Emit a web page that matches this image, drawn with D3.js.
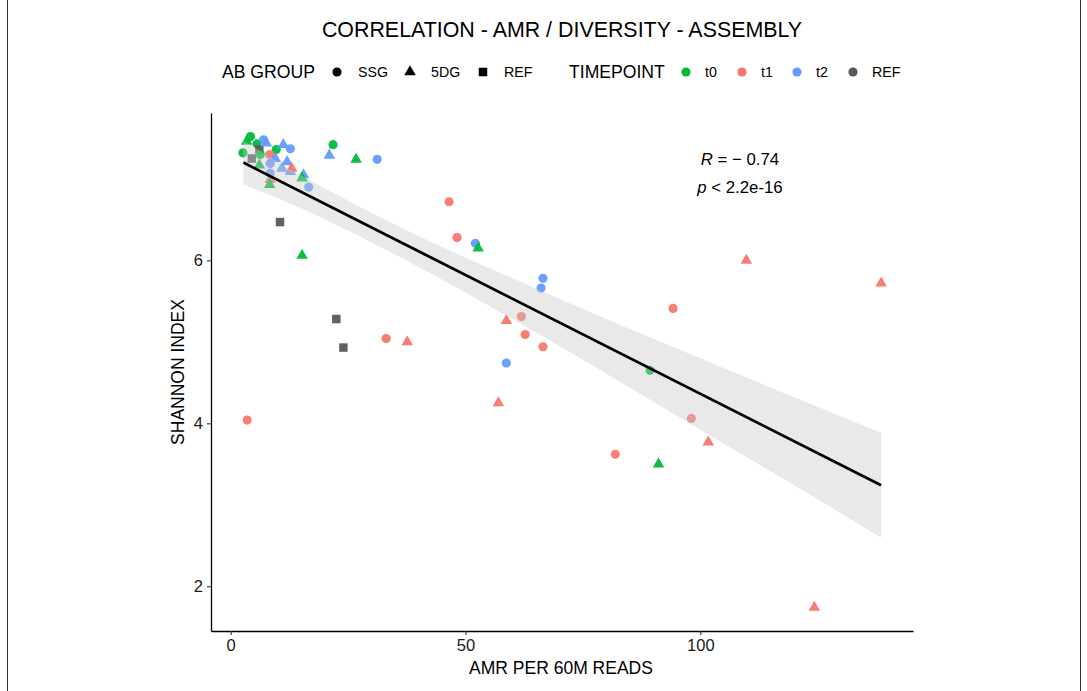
<!DOCTYPE html>
<html>
<head>
<meta charset="utf-8">
<script src="https://cdn.jsdelivr.net/npm/d3@7"></script>
<style>
  body { margin: 0; background: #fff; }
  text { font-family: "Liberation Sans", Arial, sans-serif; }
</style>
</head>
<body>
<div id="chart"></div>
<script>
// chart values
var amr = [21.8, 31.2, 21.0, 26.7, 46.5, 48.2, 52.1, 52.7, 66.5, 66.1,
  109.8, 138.5, 94.2, 58.7, 61.9, 62.7, 66.5, 58.7, 33.1, 37.6,
  22.5, 24.0, 10.5, 15.2, 3.5, 89.3, 98.1, 57.0, 101.7, 81.9,
  91.1, 124.3,
  4.2, 2.6, 5.6, 7.0, 6.1, 4.5, 3.4, 9.7, 11.2, 12.7,
  8.3, 6.3, 6.1, 8.4, 9.5, 12.0, 10.9, 12.7, 15.5, 13.0,
  8.4, 8.4, 8.3, 16.6, 15.2, 7.6];
var shannon = [7.42, 7.24, 7.29, 7.24, 6.72, 6.28, 6.21, 6.15, 5.78, 5.66,
  6.0, 5.72, 5.41, 5.26, 5.31, 5.09, 4.94, 4.74, 5.04, 5.0,
  5.28, 4.93, 6.47, 6.06, 4.04, 4.65, 4.06, 4.25, 3.77, 3.62,
  3.50, 1.74,
  7.52, 7.32, 7.43, 7.48, 7.36, 7.25, 7.46, 7.36, 7.42, 7.37,
  7.30, 7.30, 7.17, 7.19, 7.25, 7.21, 7.13, 7.09, 7.05, 7.13,
  7.07, 6.99, 6.93, 6.90, 7.01, 7.44];
var abGroup = ["SSG", "SSG", "5DG", "5DG", "SSG", "SSG", "SSG", "5DG", "SSG", "SSG",
  "5DG", "5DG", "SSG", "5DG", "SSG", "SSG", "SSG", "SSG", "SSG", "5DG",
  "REF", "REF", "REF", "5DG", "SSG", "SSG", "SSG", "5DG", "5DG", "SSG",
  "5DG", "5DG",
  "SSG", "SSG", "SSG", "SSG", "REF", "REF", "5DG", "SSG", "5DG", "SSG",
  "SSG", "SSG", "5DG", "SSG", "5DG", "5DG", "5DG", "5DG", "5DG", "5DG",
  "SSG", "5DG", "5DG", "SSG", "5DG", "5DG"];
var timepoint = ["t0", "t2", "t2", "t0", "t1", "t1", "t2", "t0", "t2", "t2",
  "t1", "t1", "t1", "t1", "t1", "t1", "t1", "t2", "t1", "t1",
  "REF", "REF", "REF", "t0", "t1", "t0", "t1", "t1", "t1", "t1",
  "t0", "t1",
  "t0", "t0", "t0", "t2", "REF", "REF", "t0", "t0", "t2", "t2",
  "t1", "t0", "t0", "t2", "t2", "t2", "t2", "t2", "t2", "t1",
  "t2", "t1", "t0", "t2", "t0", "t2"];

// fitted line and confidence band
var fitX = [2.7, 138.5];
var fitY = [7.20, 3.24];
var bandX = [2.7, 20, 40, 60, 80, 100, 120, 138.5];
var bandLow = [6.935, 6.505, 5.92, 5.28, 4.61, 3.92, 3.24, 2.595];
var bandHigh = [7.465, 6.885, 6.30, 5.78, 5.28, 4.80, 4.32, 3.885];

var xTicks = [0, 50, 100];
var yTicks = [2, 4, 6];
var groups = ["SSG", "5DG", "REF"];
var timepoints = ["t0", "t1", "t2", "REF"];

var svgWidth = 1087;
var svgHeight = 691;
var margin = { top: 113, right: 174, bottom: 60, left: 211 };
var width = svgWidth - margin.left - margin.right;
var height = svgHeight - margin.top - margin.bottom;

var svg = d3.select("#chart")
  .append("svg")
  .attr("width", svgWidth)
  .attr("height", svgHeight);

// frame edges
svg.append("line").attr("x1", 7.5).attr("x2", 7.5).attr("y1", 0).attr("y2", svgHeight)
  .attr("stroke", "#333").attr("stroke-width", 1);
svg.append("line").attr("x1", 1080.5).attr("x2", 1080.5).attr("y1", 0).attr("y2", svgHeight)
  .attr("stroke", "#333").attr("stroke-width", 1);

var chartGroup = svg.append("g")
  .attr("transform", `translate(${margin.left}, ${margin.top})`);

var points = amr.map(function (d, i) {
  return { x: d, y: shannon[i], group: abGroup[i], tp: timepoint[i] };
});

// scales with ggplot style 5% expansion
var xExt = d3.extent(amr), yExt = d3.extent(shannon);
var xPad = (xExt[1] - xExt[0]) * 0.05, yPad = (yExt[1] - yExt[0]) * 0.05;
var xScale = d3.scaleLinear().domain([xExt[0] - xPad, xExt[1] + xPad]).range([0, width]);
var yScale = d3.scaleLinear().domain([yExt[0] - yPad, yExt[1] + yPad]).range([height, 0]);

var colour = d3.scaleOrdinal().domain(timepoints).range(["#00BA38", "#F8766D", "#619CFF", "#595959"]);
var shape = d3.scaleOrdinal().domain(groups).range([d3.symbolCircle, d3.symbolTriangle, d3.symbolSquare]);
var shapeSize = d3.scaleOrdinal().domain(groups).range([66, 58, 72]);

// points
chartGroup.selectAll("path.pt")
  .data(points)
  .enter()
  .append("path")
  .attr("class", "pt")
  .attr("transform", d => `translate(${xScale(d.x)}, ${yScale(d.y)})`)
  .attr("d", d => d3.symbol().type(shape(d.group)).size(shapeSize(d.group))())
  .attr("fill", d => colour(d.tp))
  .attr("fill-opacity", 0.95);

// confidence band drawn over the points
var band = bandX.map(function (d, i) { return { x: d, lo: bandLow[i], hi: bandHigh[i] }; });
chartGroup.append("path")
  .datum(band)
  .attr("d", d3.area().x(d => xScale(d.x)).y0(d => yScale(d.lo)).y1(d => yScale(d.hi)).curve(d3.curveMonotoneX))
  .attr("fill", "#c8c8c8")
  .attr("fill-opacity", 0.4);

chartGroup.append("line")
  .attr("x1", xScale(fitX[0])).attr("y1", yScale(fitY[0]))
  .attr("x2", xScale(fitX[1])).attr("y2", yScale(fitY[1]))
  .attr("stroke", "#000").attr("stroke-width", 2.8);

// axes
var xAxis = chartGroup.append("g")
  .attr("transform", `translate(0, ${height})`)
  .call(d3.axisBottom(xScale).tickValues(xTicks).tickFormat(d3.format("d")).tickSize(4).tickPadding(4).tickSizeOuter(0));
var yAxis = chartGroup.append("g")
  .call(d3.axisLeft(yScale).tickValues(yTicks).tickFormat(d3.format("d")).tickSize(4).tickPadding(4).tickSizeOuter(0));
[xAxis, yAxis].forEach(function (ax) {
  ax.attr("font-size", null).attr("font-family", null);
  ax.select(".domain").attr("stroke", "#000").attr("stroke-width", 1.3);
  ax.selectAll(".tick line").attr("stroke", "#333").attr("stroke-width", 1.1);
  ax.selectAll(".tick text").style("font-size", "16.5px").attr("fill", "#1a1a1a");
});

// axes labels
chartGroup.append("text")
  .attr("transform", "rotate(-90)")
  .attr("x", 0 - height / 2)
  .attr("y", -27)
  .attr("text-anchor", "middle")
  .style("font-size", "17.5px")
  .text("SHANNON INDEX");

chartGroup.append("text")
  .attr("x", width / 2 - 1)
  .attr("y", height + 43)
  .attr("text-anchor", "middle")
  .style("font-size", "17.5px")
  .text("AMR PER 60M READS");

// stats annotation
var ann = chartGroup.append("g").style("font-size", "16.8px").attr("text-anchor", "middle");
var r1 = ann.append("text").attr("x", 529).attr("y", 52);
r1.append("tspan").attr("font-style", "italic").text("R");
r1.append("tspan").text(" = \u2212 0.74");
var r2 = ann.append("text").attr("x", 529).attr("y", 80);
r2.append("tspan").attr("font-style", "italic").text("p");
r2.append("tspan").text(" < 2.2e-16");

// title
svg.append("text")
  .attr("x", 562)
  .attr("y", 37)
  .attr("text-anchor", "middle")
  .style("font-size", "21.4px")
  .text("CORRELATION - AMR / DIVERSITY - ASSEMBLY");

// legends
var legend = svg.append("g").attr("transform", "translate(0, 72)");
legend.append("text").attr("x", 222).attr("y", 6).style("font-size", "17.6px").text("AB GROUP");
var groupX = [337, 410, 483];
groups.forEach(function (g, i) {
  legend.append("path")
    .attr("transform", `translate(${groupX[i]}, 0)`)
    .attr("d", d3.symbol().type(shape(g)).size(shapeSize(g))())
    .attr("fill", "#000");
  legend.append("text").attr("x", groupX[i] + 21).attr("y", 5).style("font-size", "14.2px").text(g);
});
legend.append("text").attr("x", 569).attr("y", 6).style("font-size", "17.6px").text("TIMEPOINT");
var tpX = [686, 742, 797, 853];
timepoints.forEach(function (t, i) {
  legend.append("circle").attr("cx", tpX[i]).attr("cy", 0).attr("r", 4.6).attr("fill", colour(t));
  legend.append("text").attr("x", tpX[i] + 19).attr("y", 5).style("font-size", "14.2px").text(t);
});
</script>
</body>
</html>
